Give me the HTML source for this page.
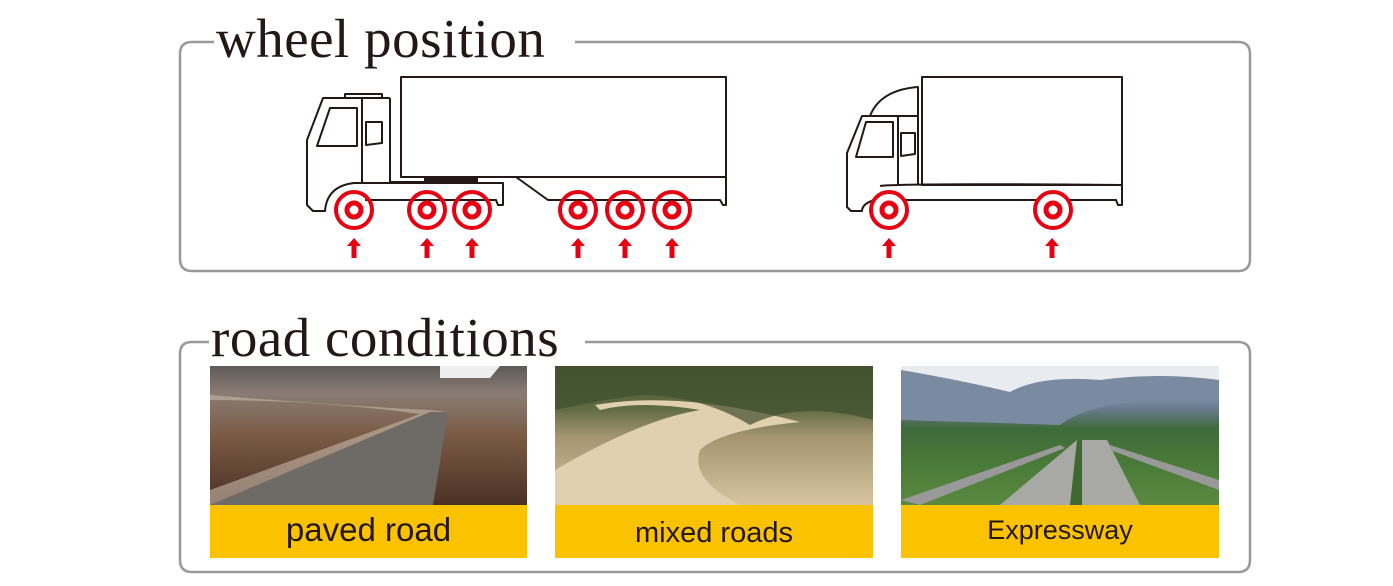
<!DOCTYPE html>
<html><head><meta charset="utf-8"><style>
body{margin:0;width:1393px;height:586px;background:#fff;overflow:hidden;position:relative}
.t{position:absolute;font-family:"Liberation Serif",serif;font-size:55px;color:#231815;background:#fff;line-height:1;white-space:nowrap;letter-spacing:0.5px}
.lab{position:absolute;background:#fbc200;font-family:"Liberation Sans",sans-serif;color:#231815;text-align:center;height:53px;white-space:nowrap}
</style></head><body>
<svg width="1393" height="586" style="position:absolute;left:0;top:0">
<g fill="none" stroke="#999" stroke-width="2.5">
<path d="M215 42 H192 Q180 42 180 54 V259 Q180 271 192 271 H1238 Q1250 271 1250 259 V54 Q1250 42 1238 42 H575"/>
<path d="M212 342 H192 Q180 342 180 354 V560 Q180 572 192 572 H1238 Q1250 572 1250 560 V354 Q1250 342 1238 342 H585"/>
</g>
<g fill="none" stroke="#231815" stroke-width="2" stroke-linejoin="round">
<rect x="401" y="77" width="325" height="100"/>
<path d="M516 177 L548 200 H720 L723 205 H726 V177"/>
<path d="M390 98 H323 L307 140 V205 L313 211 H325 Q327 186 354 183 H503 V205 H498 L496 200 H365"/>
<path d="M345 98 V94 H382 V98"/>
<path d="M390 98 V182 M362 98 V182"/>
<path d="M317 146 L330 108 H357 V146 Z"/>
<path d="M366 122 H382 V143 L366 145 Z"/>
<path d="M390 182 H424"/>
<rect x="922" y="77" width="200" height="108"/>
<path d="M1122 185 V205 H1118 L1116 200 H1068 M1038 200 H905 M874 200 Q862 204 862 211 H851 L847 207 V153 L862 116 H918 V185 M870 116 Q880 90 918 87 V116"/>
<path d="M880 186 Q900 183 1122 185"/>
<path d="M898 116 V185"/>
<path d="M856 157 L866 122 H893 V157 Z"/>
<path d="M901 133 H915 V154 L901 156 Z"/>
</g>
<rect x="424" y="176" width="54" height="6" fill="#231815"/>
<g fill="none" stroke="#e60012">
<g stroke-width="4">
<circle cx="354" cy="210" r="18"/><circle cx="427" cy="210" r="18"/><circle cx="472" cy="210" r="18"/><circle cx="578" cy="210" r="18"/><circle cx="625" cy="210" r="18"/><circle cx="672" cy="210" r="18"/><circle cx="889" cy="210" r="18"/><circle cx="1053" cy="210" r="18"/>
</g>
<g stroke-width="5">
<circle cx="354" cy="210" r="7"/><circle cx="427" cy="210" r="7"/><circle cx="472" cy="210" r="7"/><circle cx="578" cy="210" r="7"/><circle cx="625" cy="210" r="7"/><circle cx="672" cy="210" r="7"/><circle cx="889" cy="210" r="7"/><circle cx="1053" cy="210" r="7"/>
</g></g>
<g fill="#e60012">
<path id="ar" d="M0 0 L7 8 H2.5 V20 H-2.5 V8 H-7 Z" transform="translate(354 238)"/>
<use href="#ar" transform="translate(73 0)"/><use href="#ar" transform="translate(118 0)"/><use href="#ar" transform="translate(224 0)"/><use href="#ar" transform="translate(271 0)"/><use href="#ar" transform="translate(318 0)"/><use href="#ar" transform="translate(535 0)"/><use href="#ar" transform="translate(698 0)"/>
</g>
<defs>
<linearGradient id="s1" x1="0" y1="0" x2="0" y2="1"><stop offset="0" stop-color="#5e5a58"/><stop offset=".2" stop-color="#8a7c74"/><stop offset=".5" stop-color="#7a5a44"/><stop offset="1" stop-color="#4a3024"/></linearGradient>
<linearGradient id="s2" x1="0" y1="0" x2="0" y2="1"><stop offset="0" stop-color="#4b5a38"/><stop offset=".3" stop-color="#5e6a42"/><stop offset=".5" stop-color="#a49470"/><stop offset="1" stop-color="#d8c4a0"/></linearGradient>
<linearGradient id="s3" x1="0" y1="0" x2="0" y2="1"><stop offset="0" stop-color="#b8c8d8"/><stop offset=".3" stop-color="#6a7c90"/><stop offset=".45" stop-color="#3e6a3a"/><stop offset=".7" stop-color="#4a7a38"/><stop offset="1" stop-color="#5a8a40"/></linearGradient>
</defs>
<rect x="210" y="366" width="317" height="140" fill="url(#s1)"/>
<path d="M440 366 h60 l-10 12 h-50z" fill="#eee"/>
<path d="M210 395 Q330 405 430 410 L448 412 L430 505 H210 V490 L420 414 Q320 400 210 400Z" fill="#c8b8a8" opacity=".6"/>
<path d="M210 505 L430 412 L448 412 L433 505 Z" fill="#6e6a66"/>
<rect x="555" y="366" width="318" height="140" fill="url(#s2)"/>
<path d="M555 470 Q640 420 700 410 Q640 400 600 410 L595 405 Q680 390 800 422 Q720 430 700 450 Q690 480 740 505 H555Z" fill="#e0d0b0"/>
<path d="M555 366 H873 V420 Q800 400 750 425 Q700 395 640 395 Q600 400 555 410Z" fill="#3e4e2e" opacity=".7"/>
<rect x="901" y="366" width="318" height="140" fill="url(#s3)"/>
<path d="M901 370 L960 375 L1020 366 H1219 V400 Q1100 395 1060 425 L901 420 Z" fill="#7a8aa0"/>
<path d="M901 370 Q960 380 1010 392 Q1040 375 1100 380 Q1160 372 1219 380 V366 H901Z" fill="#e8ecf0"/>
<path d="M1000 505 L1077 440 L1107 440 L1140 505Z" fill="#a8a8a4"/>
<path d="M1077 440 L1082 440 L1082 505 L1070 505Z" fill="#3e6a30"/>
<path d="M901 500 L1060 445 L1065 448 L920 505Z" fill="#999"/>
<path d="M1110 445 L1219 480 V490 L1110 450Z" fill="#999"/>
</svg>
<div class="t" style="left:214px;top:11px;padding:0 4px 0 2px">wheel position</div>
<div class="t" style="left:209px;top:310px;padding:0 4px 0 2px">road conditions</div>
<div class="lab" style="left:210px;top:505px;width:317px;font-size:33px;line-height:50px">paved road</div>
<div class="lab" style="left:555px;top:505px;width:318px;font-size:29px;line-height:56px">mixed roads</div>
<div class="lab" style="left:901px;top:505px;width:318px;font-size:27px;line-height:50px">Expressway</div>
</body></html>
